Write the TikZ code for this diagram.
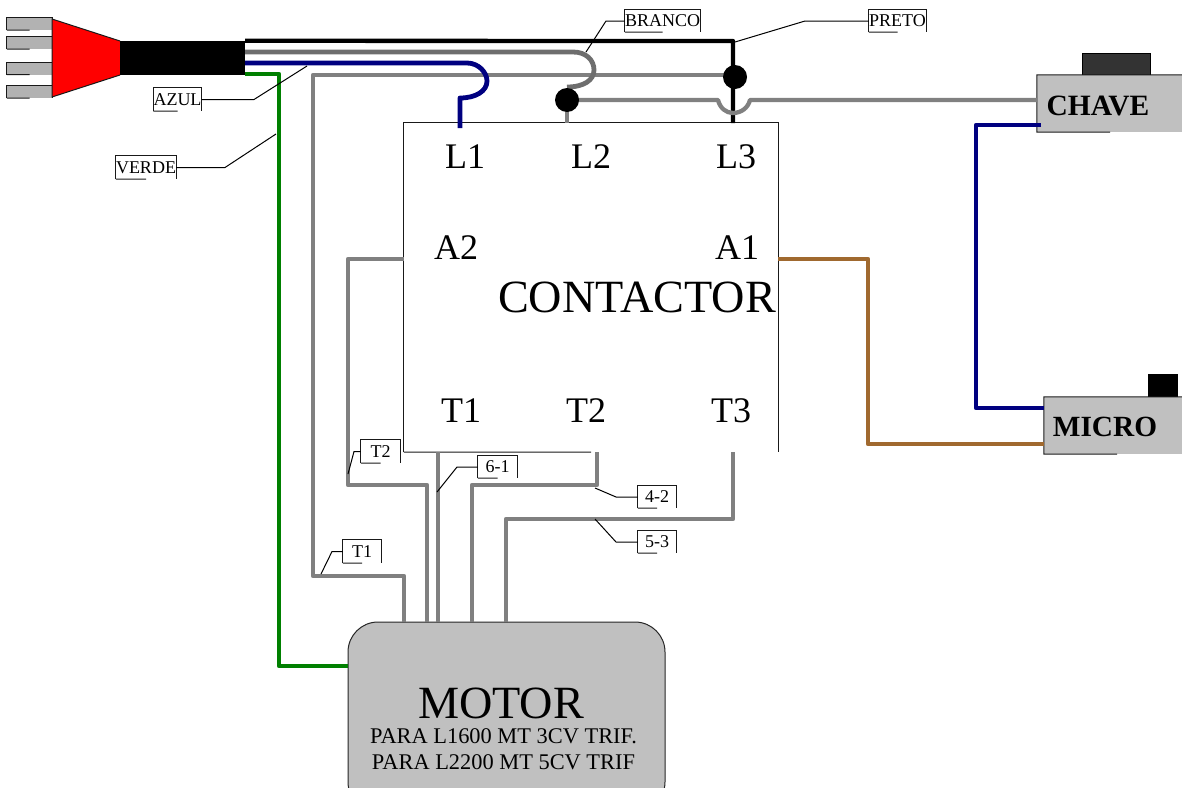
\documentclass[tikz,border=0pt]{standalone}
\usepackage{fontspec}
\setmainfont{Liberation Serif}
\usetikzlibrary{calc}
\definecolor{wgray}{HTML}{808080}
\definecolor{wdark}{HTML}{6E6E6E}
\definecolor{wnavy}{HTML}{000080}
\definecolor{wgreen}{HTML}{008000}
\definecolor{wbrown}{HTML}{A0692F}
\definecolor{boxgray}{HTML}{C0C0C0}
\definecolor{prong}{HTML}{B2B2B2}
\newcommand{\fs}[1]{\fontsize{#1}{#1}\selectfont}
\newcommand{\partborder}[1]{%
  \draw[edge] (#1.south west) -- (#1.north west) -- (#1.north east) -- (#1.south east);
  \draw[edge] (#1.south west) -- ($(#1.south west)!.5!(#1.south east)$);}
\tikzset{
  wire/.style={line width=4.3pt,line join=round},
  edge/.style={line width=1pt,black!90},
  leader/.style={line width=1pt,black},
  tag/.style={inner sep=0pt,font=\fs{18}},
  term/.style={inner sep=0pt,font=\fs{36}},
  big/.style={inner sep=0pt,font=\fs{46.2}},
  dot/.style={circle,fill=black,minimum size=24pt,inner sep=0pt},
  prongbox/.style={fill=prong,inner sep=0pt,minimum width=45pt,minimum height=12pt},
  device/.style={fill=boxgray,inner sep=0pt},
}
\begin{document}
\begin{tikzpicture}[x=1pt,y=-1pt]
\useasboundingbox (0,0) rectangle (1182,787);
% plug
\node[prongbox] (p1) at (29.5,24) {};
\node[prongbox] (p2) at (29.5,43) {};
\node[prongbox] (p3) at (29.5,68.5) {};
\node[prongbox] (p4) at (29.5,92) {};
\foreach \p in {p1,p2,p3,p4}{\partborder{\p}}
\fill[red] (52,19) -- (120,41) -- (120,75) -- (52,97) -- cycle;
\draw[edge] (120,41) -- (52,19) -- (52,97) -- (120,75);
\node[fill=black,inner sep=0pt,minimum width=125pt,minimum height=34pt] (cable) at (182.5,58) {};
% contactor
\node[inner sep=0pt,minimum width=374pt,minimum height=329pt] (contactor) at (591,287.5) {};
\draw[edge] (contactor.south west) -- (contactor.north west) -- (contactor.north east) -- (contactor.south east);
\draw[edge] (contactor.south west) -- (591,452);
\node[term] (L1) at (465,157) {L1};
\node[term] (L2) at (591,157) {L2};
\node[term] (L3) at (736,157) {L3};
\node[term] (A2) at (456,248) {A2};
\node[term] (A1) at (737,248) {A1};
\node[big] (ctext) at (637,297) {CONTACTOR};
\node[term] (T1) at (461,411) {T1};
\node[term] (T2) at (586,411) {T2};
\node[term] (T3) at (731,411) {T3};
% devices
\node[device,minimum width=68pt,minimum height=22pt,fill=black!80,draw=black] (chavecap) at (1116,64) {};
\node[device,minimum width=145pt,minimum height=57pt] (chave) at (1109.5,103.5) {};
\draw[edge] (chave.north east) -- (chave.north west) -- (chave.south west) -- (1110,132);
\node[inner sep=0pt,font=\fs{29.5}\bfseries] (chavetext) at (1098,106) {CHAVE};
\node[device,minimum width=30pt,minimum height=23pt,fill=black] (microcap) at (1163,385.5) {};
\node[device,minimum width=138pt,minimum height=57pt] (micro) at (1113,425.5) {};
\draw[edge] (micro.north east) -- (micro.north west) -- (micro.south west) -- (1117,454);
\node[inner sep=0pt,font=\fs{29.3}\bfseries] (microtext) at (1105,427) {MICRO};
% motor
\node[device,draw=black!85,line width=1pt,rounded corners=30pt,minimum width=317pt,minimum height=190pt] (motor) at (506.5,717) {};
\node[big] (motortext) at (501,703) {MOTOR};
\node[inner sep=0pt,font=\fs{22.4}] (para1) at (503.5,736) {PARA L1600 MT 3CV TRIF.};
\node[inner sep=0pt,font=\fs{22.4}] (para2) at (503.5,762) {PARA L2200 MT 5CV TRIF};
% terminals
\coordinate (cL3) at (735,75);
\coordinate (cL2) at (567,100);
% wires
\draw[wire,wgray] (cL3) -- (313,75) -- (313,576) -- (404,576) -- (404,622);
\draw[wire,wgreen] (cable.east |- 0,74) -- (279,74) -- (279,666) -- (motor.west |- 0,666);
\draw[wire,black] (cable.north east) -- (733,41) -- (733,123);
\draw[wire,wdark,line width=4.8pt] (cable.east |- 0,52) -- (573,52) .. controls (586,52) and (594,60) .. (594,70) .. controls (594,80) and (584,87) .. (567,87);
\draw[wire,wnavy,line width=4.8pt] (cable.east |- 0,63) -- (467,63) .. controls (479,63) and (487,73) .. (487,81) .. controls (487,91) and (476,98) .. (460,98) -- (460,128);
\draw[wire,wgray] (cL2) -- (567,123);
\draw[wire,wgray] (cL2) -- (718,100) .. controls (720,108) and (726,113) .. (733,113) .. controls (741,113) and (748,108) .. (750,100) -- (chave.west |- 0,100);
\draw[wire,wgray] (contactor.west |- 0,259) -- (348,259) -- (348,485) -- (427,485) -- (427,622);
\draw[wire,wgray] (438,452) -- (438,622);
\draw[wire,wgray] (597,452) -- (597,485) -- (472,485) -- (472,622);
\draw[wire,wgray] (733,452) -- (733,519) -- (506,519) -- (506,622);
\draw[wire,wbrown] (contactor.east |- 0,259) -- (868,259) -- (868,444) -- (micro.west |- 0,444);
\draw[wire,wnavy] (1041,125) -- (976,125) -- (976,408) -- (micro.west |- 0,408);
\node[dot] (dotL3) at (735,77) {};
\node[dot] (dotL2) at (567,100) {};
% labels
\node[tag,minimum width=73pt,minimum height=22pt] (branco) at (662.5,21) {BRANCO};
\node[tag,minimum width=55pt,minimum height=22pt] (preto) at (897.5,21) {PRETO};
\node[tag,minimum width=45pt,minimum height=23pt] (azul) at (177.5,99.5) {AZUL};
\node[tag,minimum width=58pt,minimum height=23pt] (verde) at (146,167.5) {VERDE};
\node[tag,minimum width=39pt,minimum height=23pt] (t2) at (380.5,451.5) {T2};
\node[tag,minimum width=39pt,minimum height=22pt] (l61) at (497.5,467) {6-1};
\node[tag,minimum width=38pt,minimum height=22pt] (l42) at (657,497) {4-2};
\node[tag,minimum width=38pt,minimum height=22pt] (l53) at (657,542) {5-3};
\node[tag,minimum width=38pt,minimum height=23pt] (t1) at (362,551.5) {T1};
\foreach \n in {branco,preto,azul,verde,t2,l61,l42,l53,t1}{\partborder{\n}}
\coordinate (eb) at (586,52);
\coordinate (ep) at (735,42);
\coordinate (ea) at (307,66);
\coordinate (ev) at (276,134);
\coordinate (et2) at (348,474);
\coordinate (e61) at (437,492);
\coordinate (e42) at (595,488);
\coordinate (e53) at (595,519);
\coordinate (et1) at (321,574);
\draw[leader] (branco.west) -- (606,21) -- (eb);
\draw[leader] (preto.west) -- (805,21) -- (ep);
\draw[leader] (azul.east) -- (254,99.5) -- (ea);
\draw[leader] (verde.east) -- (225,167.5) -- (ev);
\draw[leader] (t2.west) -- (354,451.5) -- (et2);
\draw[leader] (l61.west) -- (457,467) -- (e61);
\draw[leader] (l42.west) -- (616,497) -- (e42);
\draw[leader] (l53.west) -- (616,542) -- (e53);
\draw[leader] (t1.west) -- (332,551.5) -- (et1);
\end{tikzpicture}
\end{document}
